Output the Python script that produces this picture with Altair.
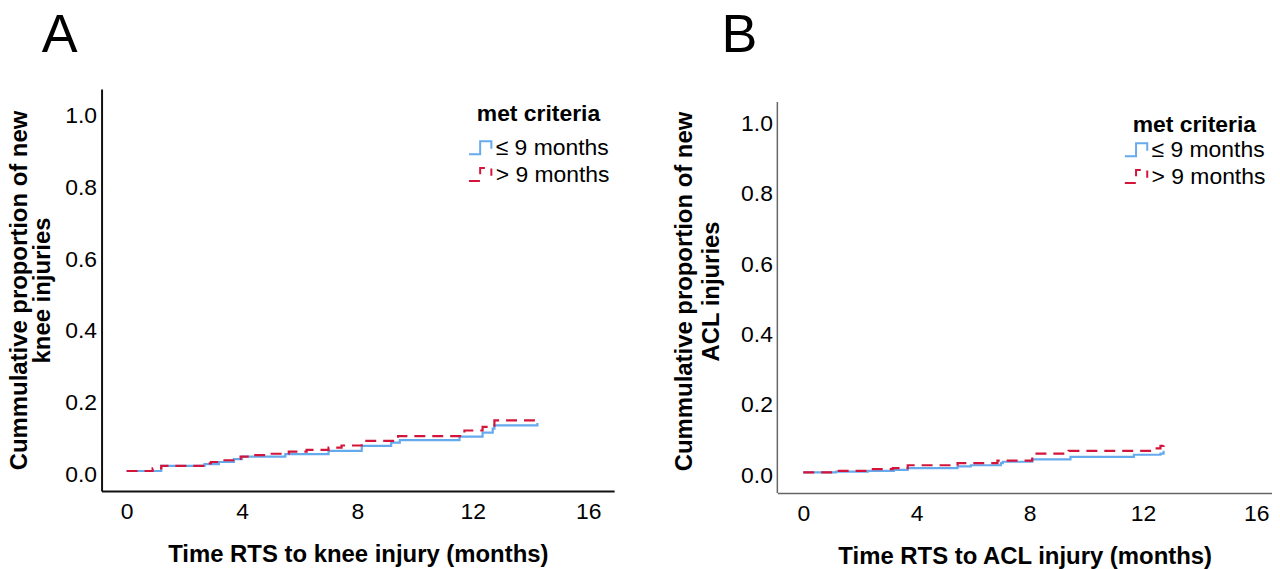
import altair as alt
import pandas as pd

SERIES = ["≤ 9 months", "> 9 months"]
COLORS = ["#66AAEE", "#D3153B"]
DASHES = [[1, 0], [11, 7]]
X_TICKS = [0, 4, 8, 12, 16]
Y_TICKS = [0.0, 0.2, 0.4, 0.6, 0.8, 1.0]

# Panel A: new knee injuries
a_le_t = [0, 1.2, 2.7, 3.2, 3.72, 4.0, 5.5, 7.0, 8.15, 9.17, 9.47, 11.54, 12.34, 12.69, 12.75, 14.24]
a_le_p = [0.009, 0.023, 0.028, 0.034, 0.042, 0.049, 0.056, 0.065, 0.079, 0.088, 0.095, 0.105, 0.116, 0.127, 0.136, 0.143]
a_gt_t = [0, 0.9, 1.2, 2.7, 2.92, 3.26, 3.78, 3.95, 4.41, 5.03, 5.62, 6.24, 7.0, 7.45, 8.15, 9.41, 11.71, 12.34, 12.75, 14.24]
a_gt_p = [0.009, 0.016, 0.023, 0.030, 0.034, 0.039, 0.043, 0.049, 0.053, 0.057, 0.063, 0.068, 0.074, 0.080, 0.093, 0.106, 0.122, 0.132, 0.150, 0.162]

# Panel B: new ACL injuries
b_le_t = [0, 1.16, 2.28, 3.2, 3.69, 5.45, 5.92, 6.98, 7.05, 8.09, 9.44, 11.68, 12.62, 12.73]
b_le_p = [0.008, 0.010, 0.012, 0.015, 0.020, 0.025, 0.028, 0.034, 0.038, 0.045, 0.052, 0.058, 0.061, 0.069]
b_gt_t = [0, 1.16, 2.28, 3.16, 3.69, 5.45, 6.86, 8.09, 9.37, 12.38, 12.62, 12.73]
b_gt_p = [0.008, 0.012, 0.017, 0.020, 0.028, 0.034, 0.041, 0.061, 0.069, 0.076, 0.083, 0.094]

# panel B's y axis line runs over this value range only
b_axis_range = [-0.051, 1.062]

FONT = "Liberation Sans"
STEP_PATH = "M-1,0.55H-0.05V-0.55H0.9V0.1"


def panel(le_t, le_p, gt_t, gt_p, xdom, ydom, w, h, xtitle, ytitle, letter, letter_dx,
          axis_color, axis_width, lx, ly, leg_tpad, ytitle_pad, ytitle_lh, y_axis_line=None):
    df_le = pd.DataFrame({"t": le_t, "p": le_p, "g": SERIES[0]})
    df_gt = pd.DataFrame({"t": gt_t, "p": gt_p, "g": SERIES[1]})
    legend = alt.Legend(
        title="met criteria", orient="none", legendX=lx, legendY=ly,
        titleFont=FONT, titleFontSize=23, titleFontWeight="bold", titleColor="black",
        titleAnchor="middle", titlePadding=leg_tpad,
        labelFont=FONT, labelFontSize=23, labelColor="black", labelOffset=2,
        symbolType=STEP_PATH, symbolSize=560, symbolStrokeWidth=2,
        rowPadding=2, padding=0,
    )
    xs = alt.Scale(domain=xdom, nice=False, zero=False)
    ys = alt.Scale(domain=ydom, nice=False, zero=False)
    x = alt.X("t:Q", scale=xs,
              axis=alt.Axis(values=X_TICKS, grid=False, ticks=False, title=xtitle,
                            domainColor=axis_color, domainWidth=axis_width,
                            labelFont=FONT, labelFontSize=23, labelColor="black",
                            labelPadding=10, titleFont=FONT, titleFontSize=24,
                            titleFontWeight="bold", titleColor="black", titlePadding=19))
    y = alt.Y("p:Q", scale=ys,
              axis=alt.Axis(values=Y_TICKS, format=".1f", grid=False, ticks=False, title=ytitle,
                            domain=y_axis_line is None,
                            domainColor=axis_color, domainWidth=axis_width,
                            labelFont=FONT, labelFontSize=23, labelColor="black",
                            labelPadding=5, titleFont=FONT, titleFontSize=24,
                            titleFontWeight="bold", titleColor="black", titlePadding=ytitle_pad,
                            titleLineHeight=ytitle_lh))
    color = alt.Color("g:N", scale=alt.Scale(domain=SERIES, range=COLORS), legend=legend)
    dash = alt.StrokeDash("g:N", scale=alt.Scale(domain=SERIES, range=DASHES), legend=legend)
    base = alt.Chart().mark_line(interpolate="step-after", strokeWidth=2.2)
    layers = []
    if y_axis_line is not None:
        rule = alt.Chart(pd.DataFrame({"x0": [xdom[0]], "lo": [y_axis_line[0]], "hi": [y_axis_line[1]]})).mark_rule(
            color=axis_color, strokeWidth=axis_width
        ).encode(x=alt.X("x0:Q", scale=xs), y=alt.Y("lo:Q", scale=ys), y2="hi:Q")
        layers.append(rule)
    layers.append(base.encode(x=x, y=y, color=color, strokeDash=dash).properties(data=df_le))
    layers.append(base.encode(x=x, y=y, color=color, strokeDash=dash).properties(data=df_gt))
    return alt.layer(*layers).properties(
        width=w, height=h,
        title=alt.TitleParams(letter, anchor="start", frame="group", fontSize=54,
                              fontWeight="normal", font=FONT, color="black",
                              dx=letter_dx, offset=26),
    )


pa = panel(a_le_t, a_le_p, a_gt_t, a_gt_p, [-0.87, 16.9], [-0.047, 1.075], 515, 404,
           "Time RTS to knee injury (months)",
           ["Cummulative proportion of new", "knee injuries"], "A", -60,
           "#111111", 2, 368, 14, 9, 10, 23)
pb = panel(b_le_t, b_le_p, b_gt_t, b_gt_p, [-0.916, 16.56], [-0.051, 1.099], 497, 406,
           "Time RTS to ACL injury (months)",
           ["Cummulative proportion of new", "ACL injuries"], "B", -56,
           "#666666", 1.5, 348, 25, 0, 17, 27, y_axis_line=b_axis_range)

chart = (
    alt.hconcat(pa, pb, spacing=59)
    .resolve_scale(color="independent", strokeDash="independent")
    .resolve_legend(color="independent", strokeDash="independent")
    .properties(padding=0)
    .configure_view(strokeWidth=0)
)
chart.save("out.html", embed_options={"renderer": "svg", "actions": False})
